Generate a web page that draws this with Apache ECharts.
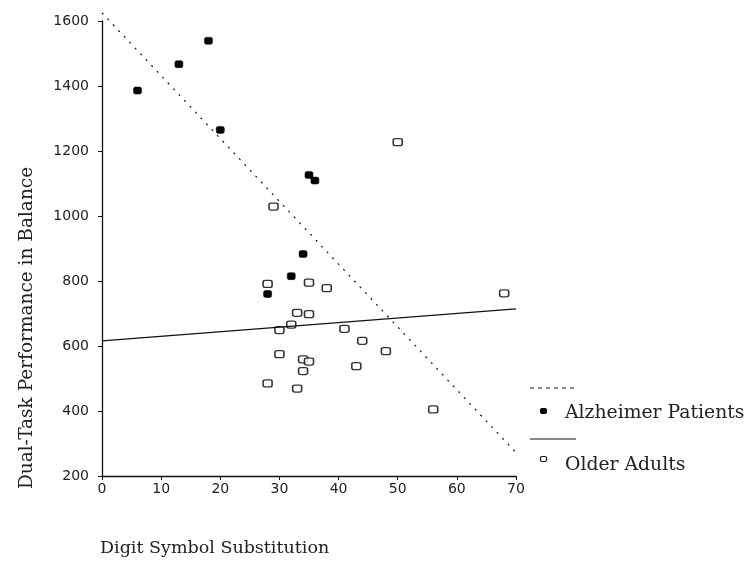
<!DOCTYPE html>
<html>
<head>
<meta charset="utf-8">
<script src="https://cdn.jsdelivr.net/npm/echarts@6/dist/echarts.min.js"></script>
<style>
  html, body { margin: 0; padding: 0; background: #fff; }
  #chart { width: 748px; height: 561px; }
</style>
</head>
<body>
<div id="chart"></div>
<script>
// Digit Symbol Substitution score vs. dual-task balance performance
const alzheimerPatients = [
  [6, 1386], [13, 1467], [18, 1539], [20, 1265],
  [35, 1126], [36, 1109], [34, 883], [32, 815], [28, 760]
];
const olderAdults = [
  [29, 1029], [28, 791], [35, 795], [38, 778], [68, 762],
  [33, 702], [35, 698], [32, 666], [30, 649], [41, 653],
  [44, 616], [48, 584], [30, 575], [34, 559], [35, 552],
  [34, 523], [43, 538], [28, 485], [33, 469], [56, 405],
  [50, 1227]
];
// fitted regression lines (end points over the x range)
const alzheimerFit = [[0, 1625], [70, 272]];
const olderFit = [[0, 616], [70, 714]];

const xTicks = { min: 0, max: 70, interval: 10 };
const yTicks = { min: 200, max: 1600, interval: 200 };

const serif = '"DejaVu Serif", serif';
const sans = '"DejaVu Sans", sans-serif';
const ink = '#000';

const chart = echarts.init(document.getElementById('chart'));

chart.setOption({
  animation: false,
  backgroundColor: '#fff',
  grid: { left: 102, right: 232, top: 21, bottom: 85, containLabel: false },
  xAxis: {
    type: 'value',
    min: xTicks.min, max: xTicks.max, interval: xTicks.interval,
    axisLine: { show: true, onZero: false, lineStyle: { color: '#111', width: 1.3 } },
    axisTick: { show: true, length: 4, lineStyle: { color: '#111' } },
    axisLabel: { color: '#222', fontFamily: sans, fontSize: 14, margin: 6,
                 formatter: v => String(v) },
    splitLine: { show: false }
  },
  yAxis: {
    type: 'value',
    min: yTicks.min, max: yTicks.max, interval: yTicks.interval,
    axisLine: { show: true, onZero: false, lineStyle: { color: '#111', width: 1.3 } },
    axisTick: { show: true, length: 4, lineStyle: { color: '#111' } },
    axisLabel: { color: '#222', fontFamily: sans, fontSize: 14, margin: 13,
                 formatter: v => String(v) },
    splitLine: { show: false }
  },
  series: [
    {
      name: 'Alzheimer fit', type: 'line', data: alzheimerFit,
      symbol: 'none', silent: true, clip: false,
      lineStyle: { color: '#111', width: 1.2, type: [2, 6] }
    },
    {
      name: 'Older fit', type: 'line', data: olderFit,
      symbol: 'none', silent: true, clip: false,
      lineStyle: { color: '#111', width: 1.2 }
    },
    {
      name: 'Older Adults', type: 'scatter', data: olderAdults,
      symbol: 'roundRect', symbolSize: [9, 7],
      itemStyle: { color: '#fff', borderColor: ink, borderWidth: 1.4 }
    },
    {
      name: 'Alzheimer Patients', type: 'scatter', data: alzheimerPatients,
      symbol: 'roundRect', symbolSize: [8, 7],
      itemStyle: { color: ink, borderColor: ink, borderWidth: 0.5, opacity: 1 }
    }
  ],
  graphic: [
    // y-axis title
    {
      type: 'text', x: 27, y: 328, rotation: Math.PI / 2,
      style: {
        text: 'Dual-Task Performance in Balance',
        font: '18.5px ' + serif, fill: '#222',
        textAlign: 'center', textVerticalAlign: 'middle'
      }
    },
    // x-axis title
    {
      type: 'text', x: 100, y: 548,
      style: {
        text: 'Digit Symbol Substitution',
        font: '17.5px ' + serif, fill: '#222',
        textAlign: 'left', textVerticalAlign: 'middle'
      }
    },
    // legend
    {
      type: 'line', shape: { x1: 530, y1: 388, x2: 576, y2: 388 },
      style: { stroke: '#111', lineWidth: 1, lineDash: [4, 4] }
    },
    {
      type: 'rect', shape: { x: 540, y: 408, width: 7, height: 6, r: 2 },
      style: { fill: '#000' }
    },
    {
      type: 'text', x: 565, y: 413,
      style: {
        text: 'Alzheimer Patients', font: '18.8px ' + serif, fill: '#222',
        textAlign: 'left', textVerticalAlign: 'middle'
      }
    },
    {
      type: 'line', shape: { x1: 530, y1: 439, x2: 576, y2: 439 },
      style: { stroke: '#111', lineWidth: 1.2 }
    },
    {
      type: 'rect', shape: { x: 540.5, y: 456.5, width: 6, height: 5, r: 1.5 },
      style: { fill: '#fff', stroke: '#111', lineWidth: 1.2 }
    },
    {
      type: 'text', x: 565, y: 465,
      style: {
        text: 'Older Adults', font: '18.8px ' + serif, fill: '#222',
        textAlign: 'left', textVerticalAlign: 'middle'
      }
    }
  ]
});
</script>
</body>
</html>
